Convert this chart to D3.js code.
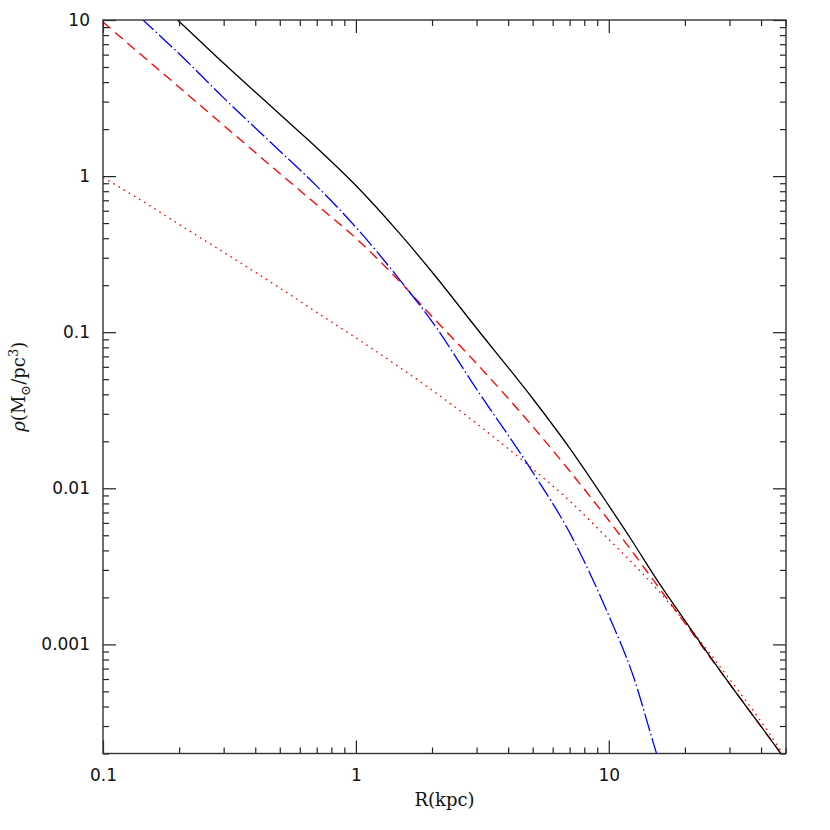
<!DOCTYPE html>
<html>
<head>
<meta charset="utf-8">
<script src="https://cdn.jsdelivr.net/npm/d3@7"></script>
<style>
  body { margin: 0; background: #fff; }
  svg { display: block; }
</style>
</head>
<body>
<script>
// radius grid (kpc) shared by all curves
var radius = [0.1, 0.15, 0.2, 0.3, 0.5, 0.7, 1, 1.5, 2, 3, 5, 7, 10, 12.5, 15, 20, 30, 40, 50];

// density values (M_sun / pc^3), null = off the chart
var total   = [27.1, 14.9, 9.79, 5.28, 2.49, 1.52, 0.87, 0.423, 0.243, 0.106, 0.0376, 0.0181, 0.00775, 0.00448, 0.00281, 0.00142, 0.00056, 0.000298, 0.000182];
var dashed  = [9.7, 5.52, 3.71, 2.11, 1.04, 0.655, 0.40, 0.209, 0.126, 0.063, 0.0249, 0.0129, 0.00622, 0.00385, 0.00258, 0.00137, 0.00056, 0.000298, 0.000182];
var dotted  = [0.98, 0.66, 0.49, 0.325, 0.192, 0.134, 0.092, 0.059, 0.0425, 0.026, 0.0133, 0.0083, 0.0047, 0.00327, 0.0024, 0.00139, 0.0006, 0.00032, 0.000188];
var blue    = [17.4, 9.4, 6.08, 3.17, 1.45, 0.863, 0.47, 0.214, 0.117, 0.0432, 0.0127, 0.0052, 0.00153, 0.000625, 0.000234, 0.000048, null, null, null];

var xMajor = [0.1, 1, 10];
var xLabels = ["0.1", "1", "10"];
var yMajor = [0.001, 0.01, 0.1, 1, 10];
var yLabels = ["0.001", "0.01", "0.1", "1", "10"];

var W = 830, H = 830;
var pLeft = 103, pRight = 786, pTop = 20, pBottom = 753.5;

var svg = d3.select("body").append("svg")
    .attr("width", W)
    .attr("height", H);

var x = d3.scaleLog().domain([0.1, 50.2]).range([pLeft, pRight]);
var y = d3.scaleLog().domain([2e-4, 10]).range([pBottom, pTop]);

// minor ticks: 2..9 of each decade inside the domain
function minors(scale) {
  var d = scale.domain(), out = [];
  for (var e = -5; e <= 3; e++) {
    for (var m = 2; m <= 9; m++) {
      var v = m * Math.pow(10, e);
      if (v >= d[0] * 0.999 && v <= d[1] * 1.001) out.push(v);
    }
  }
  return out;
}

svg.append("clipPath").attr("id", "plot")
  .append("rect")
    .attr("x", pLeft).attr("y", pTop)
    .attr("width", pRight - pLeft).attr("height", pBottom - pTop);

var series = [
  { vals: dotted, color: "#ff0000", dash: "1.6,4.4", w: 1.3 },
  { vals: dashed, color: "#ff0000", dash: "10,6", w: 1.3 },
  { vals: blue,   color: "#0000ff", dash: "18,3,1.6,3", w: 1.3 },
  { vals: total,  color: "#000000", dash: null, w: 1.3 }
];

var line = d3.line()
    .defined(function(d) { return d[1] != null; })
    .x(function(d) { return x(d[0]); })
    .y(function(d) { return y(d[1]); })
    .curve(d3.curveMonotoneX);

svg.append("g").attr("clip-path", "url(#plot)")
  .selectAll("path")
  .data(series)
  .enter()
  .append("path")
    .attr("d", function(s) { return line(radius.map(function(r, i) { return [r, s.vals[i]]; })); })
    .attr("fill", "none")
    .attr("stroke", function(s) { return s.color; })
    .attr("stroke-width", function(s) { return s.w; })
    .attr("stroke-dasharray", function(s) { return s.dash; });

// axes, ticks pointing inward on all four sides
function styleAxis(g) {
  g.select(".domain").remove();
  g.selectAll(".tick line").attr("stroke", "#222").attr("stroke-width", 1.2);
}

svg.append("g").attr("transform", "translate(0," + pBottom + ")")
  .call(d3.axisBottom(x).tickValues(xMajor).tickSize(-13).tickPadding(15)
    .tickFormat(function(d, i) { return xLabels[i]; }))
  .call(styleAxis);
svg.append("g").attr("transform", "translate(0," + pBottom + ")")
  .call(d3.axisBottom(x).tickValues(minors(x)).tickSize(-6).tickFormat(""))
  .call(styleAxis);
svg.append("g").attr("transform", "translate(0," + pTop + ")")
  .call(d3.axisTop(x).tickValues(xMajor).tickSize(-13).tickFormat(""))
  .call(styleAxis);
svg.append("g").attr("transform", "translate(0," + pTop + ")")
  .call(d3.axisTop(x).tickValues(minors(x)).tickSize(-6).tickFormat(""))
  .call(styleAxis);

svg.append("g").attr("transform", "translate(" + pLeft + ",0)")
  .call(d3.axisLeft(y).tickValues(yMajor).tickSize(-13).tickPadding(13)
    .tickFormat(function(d, i) { return yLabels[i]; }))
  .call(styleAxis);
svg.append("g").attr("transform", "translate(" + pLeft + ",0)")
  .call(d3.axisLeft(y).tickValues(minors(y)).tickSize(-6).tickFormat(""))
  .call(styleAxis);
svg.append("g").attr("transform", "translate(" + pRight + ",0)")
  .call(d3.axisRight(y).tickValues(yMajor).tickSize(-13).tickFormat(""))
  .call(styleAxis);
svg.append("g").attr("transform", "translate(" + pRight + ",0)")
  .call(d3.axisRight(y).tickValues(minors(y)).tickSize(-6).tickFormat(""))
  .call(styleAxis);

svg.selectAll(".tick text")
  .attr("fill", "#111")
  .style("font-family", "DejaVu Sans, sans-serif")
  .style("font-size", "17px");

// frame
svg.append("rect")
  .attr("x", pLeft).attr("y", pTop)
  .attr("width", pRight - pLeft).attr("height", pBottom - pTop)
  .attr("fill", "none")
  .attr("stroke", "#333")
  .attr("stroke-width", 1.4);

// axis titles
svg.append("text")
  .attr("x", (pLeft + pRight) / 2)
  .attr("y", 806)
  .attr("text-anchor", "middle")
  .style("font-family", "DejaVu Serif, serif")
  .style("font-size", "18px")
  .attr("fill", "#111")
  .text("R(kpc)");

var yt = svg.append("text")
  .attr("transform", "translate(25," + ((pTop + pBottom) / 2) + ") rotate(-90)")
  .attr("text-anchor", "middle")
  .style("font-family", "DejaVu Serif, serif")
  .style("font-size", "18px")
  .attr("fill", "#111");
yt.append("tspan").style("font-style", "italic").text("ρ");
yt.append("tspan").text("(M");
yt.append("tspan").attr("dy", 5).style("font-size", "13px").text("⊙");
yt.append("tspan").attr("dy", -5).text("/pc");
yt.append("tspan").attr("dy", -7).style("font-size", "13px").text("3");
yt.append("tspan").attr("dy", 7).text(")");
</script>
</body>
</html>
